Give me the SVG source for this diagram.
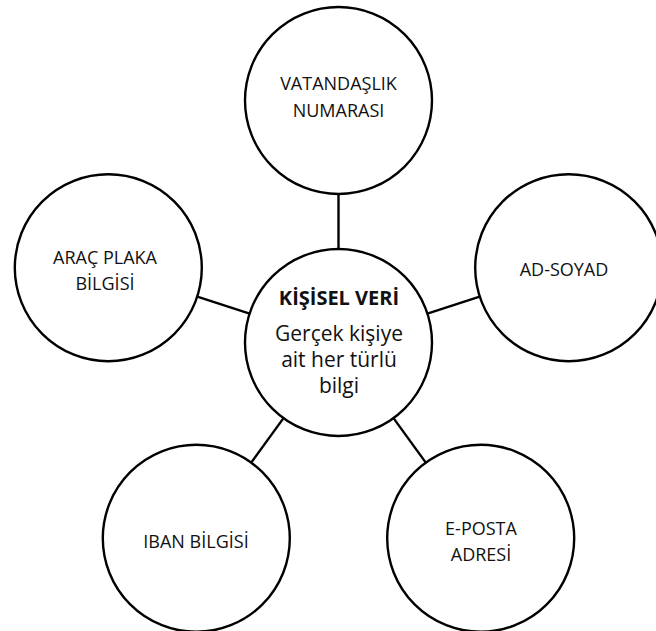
<svg xmlns="http://www.w3.org/2000/svg" width="656" height="631" viewBox="0 0 656 631">
<style>
.node circle{fill:#fff;stroke:#000;stroke-width:2.4}
.conn line{stroke:#000;stroke-width:2.4}
text{font-family:"Open Sans","Noto Sans","Liberation Sans",sans-serif;fill:#111;text-anchor:middle}
.s{font-size:18px}
.b{font-size:21px}
.t{font-size:20px;font-weight:bold}
</style>
<rect width="656" height="631" fill="#fff"/>
<g id="connectors" class="conn">
<line x1="338.5" y1="249" x2="338.5" y2="194"/>
<line x1="427.4" y1="313.6" x2="479.7" y2="296.6"/>
<line x1="249.6" y1="313.6" x2="197.3" y2="296.6"/>
<line x1="393.5" y1="418.1" x2="425.8" y2="462.6"/>
<line x1="283.5" y1="418.1" x2="251.2" y2="462.6"/>
</g>
<g id="node-center" class="node">
<circle cx="338.5" cy="342.5" r="93.5"/>
<text class="t" x="339" y="305">KİŞİSEL VERİ</text>
<text class="b" x="339" y="341">Gerçek kişiye</text>
<text class="b" x="339" y="367">ait her türlü</text>
<text class="b" x="339" y="393">bilgi</text>
</g>
<g id="node-vatandaslik" class="node">
<circle cx="338.5" cy="100.5" r="93.5"/>
<text class="s" x="338.5" y="90">VATANDAŞLIK</text>
<text class="s" x="338.5" y="117">NUMARASI</text>
</g>
<g id="node-adsoyad" class="node">
<circle cx="568.7" cy="267.7" r="93.5"/>
<text class="s" x="564" y="276">AD-SOYAD</text>
</g>
<g id="node-arac" class="node">
<circle cx="108.3" cy="267.7" r="93.5"/>
<text class="s" x="105" y="264">ARAÇ PLAKA</text>
<text class="s" x="105" y="290">BİLGİSİ</text>
</g>
<g id="node-iban" class="node">
<circle cx="196.3" cy="538.3" r="93.5"/>
<text class="s" x="196" y="548">IBAN BİLGİSİ</text>
</g>
<g id="node-eposta" class="node">
<circle cx="480.7" cy="538.3" r="93.5"/>
<text class="s" x="481" y="535">E-POSTA</text>
<text class="s" x="481" y="561">ADRESİ</text>
</g>
</svg>
